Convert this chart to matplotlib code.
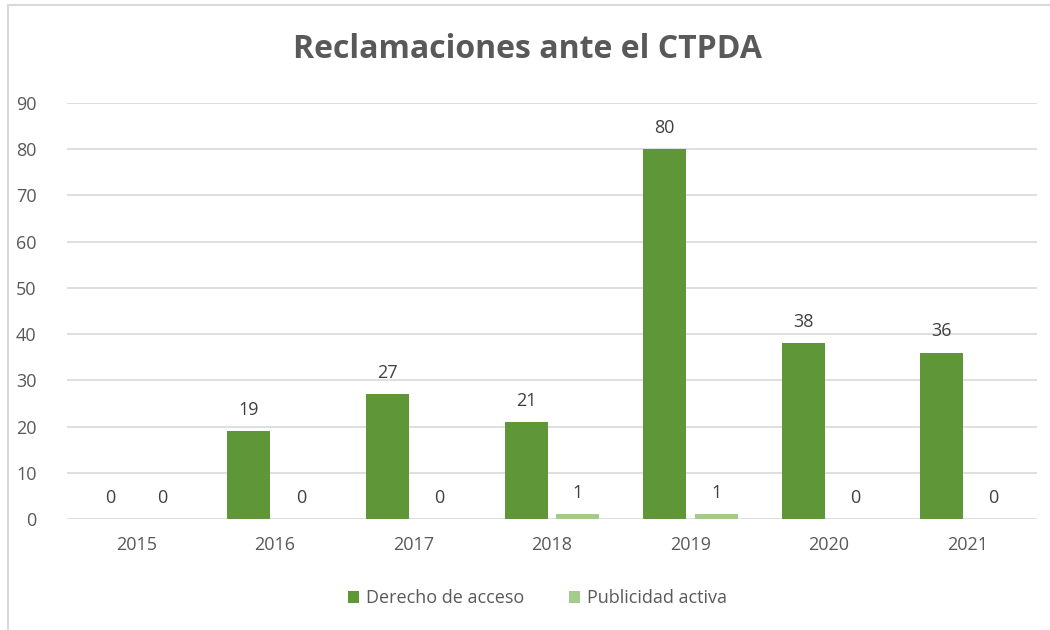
import matplotlib
matplotlib.use('Agg')
import matplotlib.pyplot as plt
from matplotlib.patches import Rectangle
import numpy as np

years = ['2015', '2016', '2017', '2018', '2019', '2020', '2021']
derecho_acceso = [0, 19, 27, 21, 80, 38, 36]
publicidad_activa = [0, 0, 0, 1, 1, 0, 0]

plt.rcParams['font.family'] = ['Open Sans', 'DejaVu Sans']

fig = plt.figure(figsize=(10.5, 6.3), dpi=100)
ax = fig.add_axes([0.0638, 0.176, 0.9238, 0.6605])

x = np.arange(len(years))
w = 0.31
gap = 0.032
c1 = '#5F9638'
c2 = '#A4CB8C'

b1 = ax.bar(x - w / 2 - gap, derecho_acceso, w, color=c1, label='Derecho de acceso', zorder=3)
b2 = ax.bar(x + w / 2 + gap, publicidad_activa, w, color=c2, label='Publicidad activa', zorder=3)

for bars in (b1, b2):
    for b in bars:
        h = b.get_height()
        ax.annotate(f'{h:.0f}', (b.get_x() + b.get_width() / 2, h),
                    xytext=(0, 9), textcoords='offset points',
                    ha='center', va='bottom', fontsize=13, color='#404040')

ax.set_xlim(-0.5, len(years) - 0.5)
ax.set_ylim(0, 90)
ax.set_yticks(range(0, 91, 10))
ax.set_xticks(x)
ax.set_xticklabels(years)
ax.tick_params(axis='both', length=0, labelsize=13, labelcolor='#595959')
ax.tick_params(axis='y', pad=22)
ax.tick_params(axis='x', pad=12)
ax.grid(axis='y', color='#D9D9D9', linewidth=1.2, zorder=0)
for s in ax.spines.values():
    s.set_visible(False)

fig.text(0.502, 0.922, 'Reclamaciones ante el CTPDA', ha='center', va='center',
         fontsize=23, fontweight='bold', color='#595959')

ax.legend(loc='center', bbox_to_anchor=(0.485, -0.19), ncol=2, frameon=False,
          fontsize=13, labelcolor='#595959', handlelength=0.6, handleheight=0.6,
          handletextpad=0.4, columnspacing=2.5)

fig.patches.append(Rectangle((8 / 1050, -0.1), 1.2, 1.1 - 5 / 630, transform=fig.transFigure,
                             fill=False, edgecolor='#D9D9D9', linewidth=1.5))

plt.savefig('out.png', dpi=100)
